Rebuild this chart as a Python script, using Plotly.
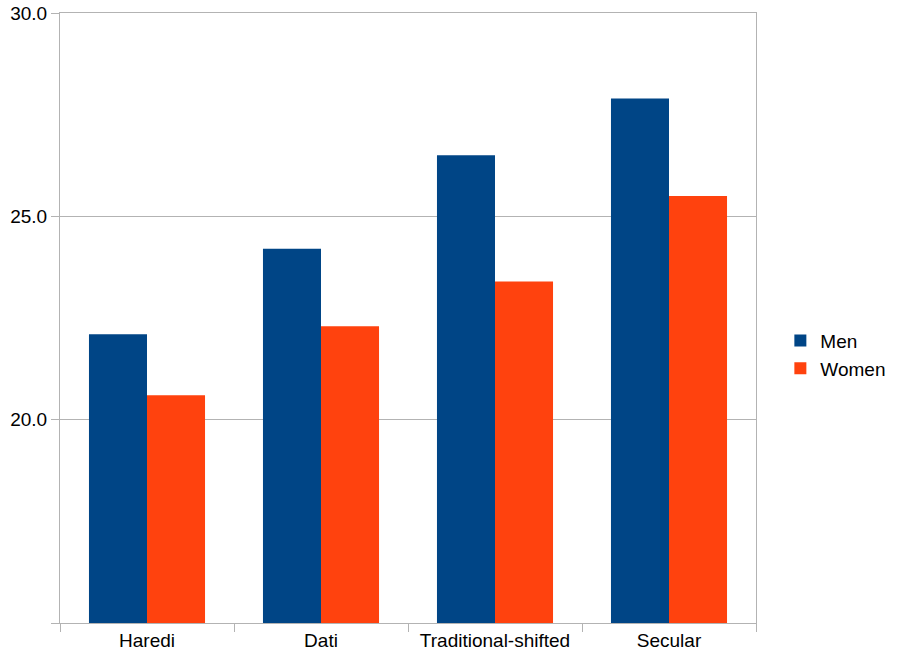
import plotly.graph_objects as go

categories = ["Haredi", "Dati", "Traditional-shifted", "Secular"]
men = [22.1, 24.2, 26.5, 27.9]
women = [20.6, 22.3, 23.4, 25.5]
y_tickvals = [15, 20, 25, 30]
y_ticktext = ["", "20.0", "25.0", "30.0"]

fig = go.Figure()
fig.add_trace(go.Bar(x=categories, y=men, name="Men", marker=dict(color="#004586", line=dict(width=0))))
fig.add_trace(go.Bar(x=categories, y=women, name="Women", marker=dict(color="#ff420e", line=dict(width=0))))

fig.update_layout(
    width=899, height=671,
    margin=dict(l=60, r=143, t=13, b=48, autoexpand=False),
    paper_bgcolor="white", plot_bgcolor="white",
    barmode="group", bargap=0.333, bargroupgap=0,
    font=dict(family="Liberation Sans, Arial, sans-serif", size=19, color="#000000"),
    legend=dict(x=1.035, y=0.44, xanchor="left", yanchor="middle",
                font=dict(size=19), itemwidth=30, tracegroupgap=2,
                bgcolor="rgba(0,0,0,0)"),
    showlegend=True,
)
fig.update_xaxes(showline=True, linecolor="#b3b3b3", linewidth=1, mirror=True,
                 ticks="outside", tickson="boundaries", ticklen=8, tickcolor="#b3b3b3",
                 showgrid=False, tickfont=dict(size=19), automargin=False)
fig.update_yaxes(range=[15, 30], tickvals=y_tickvals, ticktext=y_ticktext,
                 showline=True, linecolor="#b3b3b3", linewidth=1, mirror=True,
                 ticks="outside", ticklen=8, tickcolor="#b3b3b3",
                 showgrid=True, gridcolor="#b3b3b3", gridwidth=1, zeroline=False,
                 tickfont=dict(size=19), automargin=False)

fig.write_html(
    "out.html",
    config={"displayModeBar": False},
    post_script="document.body.style.margin='0';document.body.style.overflow='hidden';",
)
